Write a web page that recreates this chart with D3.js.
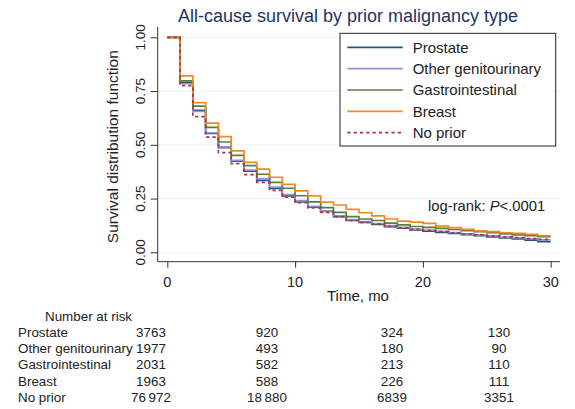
<!DOCTYPE html>
<html>
<head>
<meta charset="utf-8">
<script src="https://cdn.jsdelivr.net/npm/d3@7"></script>
<style>
  body { margin: 0; background: #fff; }
  text { font-family: "Liberation Sans", Arial, sans-serif; }
</style>
</head>
<body>
<svg width="575" height="409"></svg>
<script>
// survival estimate at the start of each month (0..29), held until the next month
const months = d3.range(0, 30);
const prostate = [1, 0.789, 0.660, 0.553, 0.487, 0.424, 0.377, 0.335, 0.297, 0.262, 0.234, 0.210, 0.190, 0.166, 0.148, 0.139, 0.130, 0.119, 0.112, 0.104, 0.098, 0.093, 0.088, 0.082, 0.077, 0.072, 0.067, 0.062, 0.057, 0.050];
const otherGU  = [1, 0.784, 0.655, 0.556, 0.490, 0.428, 0.382, 0.343, 0.303, 0.268, 0.240, 0.214, 0.193, 0.170, 0.152, 0.143, 0.134, 0.124, 0.116, 0.108, 0.103, 0.098, 0.092, 0.086, 0.081, 0.076, 0.071, 0.067, 0.063, 0.058];
const gastro   = [1, 0.797, 0.680, 0.581, 0.513, 0.451, 0.403, 0.363, 0.325, 0.298, 0.263, 0.235, 0.208, 0.186, 0.166, 0.155, 0.148, 0.136, 0.128, 0.120, 0.116, 0.111, 0.106, 0.101, 0.096, 0.091, 0.086, 0.081, 0.077, 0.073];
const breast   = [1, 0.821, 0.696, 0.601, 0.538, 0.472, 0.418, 0.387, 0.349, 0.316, 0.286, 0.262, 0.233, 0.220, 0.200, 0.184, 0.169, 0.155, 0.145, 0.140, 0.135, 0.122, 0.115, 0.107, 0.100, 0.096, 0.091, 0.088, 0.084, 0.077];
const noPrior  = [1, 0.775, 0.631, 0.536, 0.464, 0.412, 0.361, 0.325, 0.288, 0.257, 0.231, 0.206, 0.186, 0.166, 0.148, 0.139, 0.131, 0.121, 0.114, 0.107, 0.101, 0.096, 0.091, 0.086, 0.081, 0.076, 0.072, 0.068, 0.064, 0.060];

const seriesNames = ["Prostate", "Other genitourinary", "Gastrointestinal", "Breast", "No prior"];
const seriesValues = [prostate, otherGU, gastro, breast, noPrior];
const colors = ["#24557e", "#9a8fd8", "#5a7d3a", "#f08a24", "#a23a43"];

// number at risk table
const riskTimes = [0, 10, 20, 30];
const riskProstate = ["3763", "920", "324", "130"];
const riskOtherGU  = ["1977", "493", "180", "90"];
const riskGastro   = ["2031", "582", "213", "110"];
const riskBreast   = ["1963", "588", "226", "111"];
const riskNoPrior  = ["76\u2009972", "18\u2009880", "6839", "3351"];
const riskRows = [riskProstate, riskOtherGU, riskGastro, riskBreast, riskNoPrior];

const xTicks = [0, 10, 20, 30];
const yTicks = [0, 0.25, 0.5, 0.75, 1];

var svg = d3.select("svg");

let x = d3.scaleLinear().domain([0, 30]).range([167.3, 550.7]);
let y = d3.scaleLinear().domain([0, 1]).range([252.3, 37.3]);

const plotLeft = 157.7, plotRight = 560, plotTop = 27, plotBottom = 261.7;

// grid
svg.append("g").selectAll("line").data(yTicks).enter().append("line")
    .attr("x1", plotLeft).attr("x2", plotRight)
    .attr("y1", d => y(d)).attr("y2", d => y(d))
    .attr("stroke", "#e8f1f3").attr("stroke-width", 1);

// axes
let yAxis = d3.axisLeft(y).tickValues(yTicks).tickSize(7).tickSizeOuter(0);
let gy = svg.append("g").attr("transform", "translate(" + plotLeft + ",0)").call(yAxis);
gy.select(".domain").remove();
gy.selectAll("text").remove();
svg.append("line").attr("x1", plotLeft).attr("x2", plotLeft).attr("y1", plotTop).attr("y2", plotBottom).attr("stroke", "#333");

let xAxis = d3.axisBottom(x).tickValues(xTicks).tickSize(6).tickSizeOuter(0);
let gx = svg.append("g").attr("transform", "translate(0," + plotBottom + ")").call(xAxis);
gx.select(".domain").remove();
gx.selectAll("text").remove();
svg.append("line").attr("x1", plotLeft).attr("x2", plotRight).attr("y1", plotBottom).attr("y2", plotBottom).attr("stroke", "#333");
svg.selectAll(".tick line").attr("stroke", "#333");

// tick labels
svg.append("g").selectAll("text").data(yTicks).enter().append("text")
    .attr("transform", d => "translate(145," + y(d) + ") rotate(-90)")
    .attr("text-anchor", "middle")
    .style("font-size", "13.5px").attr("fill", "#222")
    .text(d => d3.format(".2f")(d));

svg.append("g").selectAll("text").data(xTicks).enter().append("text")
    .attr("x", d => x(d)).attr("y", 287)
    .attr("text-anchor", "middle")
    .style("font-size", "14.5px").attr("fill", "#222")
    .text(d => d);

// axis titles
svg.append("text")
    .attr("transform", "translate(118,146.7) rotate(-90)")
    .attr("text-anchor", "middle")
    .style("font-size", "15.5px").attr("fill", "#222")
    .text("Survival distribution function");

svg.append("text")
    .attr("x", 358).attr("y", 301)
    .attr("text-anchor", "middle")
    .style("font-size", "15px").attr("fill", "#222")
    .text("Time, mo");

// title
svg.append("text")
    .attr("x", 348).attr("y", 22)
    .attr("text-anchor", "middle")
    .style("font-size", "18px").attr("fill", "#1e3461")
    .text("All-cause survival by prior malignancy type");

// curves
let line = d3.line().curve(d3.curveStepAfter).x(d => x(d.t)).y(d => y(d.s));
seriesValues.forEach((vals, i) => {
    let pts = months.map((m, j) => ({t: m, s: vals[j]}));
    pts.push({t: 30, s: vals[vals.length - 1]});
    svg.append("path").datum(pts)
        .attr("d", line)
        .attr("fill", "none")
        .attr("stroke", colors[i])
        .attr("stroke-width", 1.7)
        .attr("stroke-dasharray", i == 4 ? "3.3,3" : null);
});

// legend
let lg = svg.append("g");
lg.append("rect").attr("x", 340).attr("y", 33.3).attr("width", 215.7).attr("height", 112.7)
    .attr("fill", "#fff").attr("stroke", "#222").attr("stroke-width", 1);
seriesNames.forEach((name, i) => {
    let ly = 47.3 + i * 21.35;
    lg.append("line").attr("x1", 347.3).attr("x2", 402.7).attr("y1", ly).attr("y2", ly)
        .attr("stroke", colors[i]).attr("stroke-width", 1.7)
        .attr("stroke-dasharray", i == 4 ? "3.3,3" : null);
    lg.append("text").attr("x", 412.7).attr("y", ly + 5.3)
        .style("font-size", "15px").attr("fill", "#222").text(name);
});

// log-rank annotation
let lr = svg.append("text").attr("x", 428).attr("y", 211)
    .style("font-size", "14.8px").attr("fill", "#222");
lr.append("tspan").text("log-rank: ");
lr.append("tspan").style("font-style", "italic").text("P");
lr.append("tspan").text("<.0001");

// number at risk
let rx = d3.scaleLinear().domain(riskTimes).range([151, 267, 392, 499]);
svg.append("text").attr("x", 45).attr("y", 320.8)
    .style("font-size", "13.4px").attr("fill", "#222").text("Number at risk");
riskRows.forEach((row, i) => {
    let ry = 336.5 + i * 16.4;
    svg.append("text").attr("x", 18).attr("y", ry)
        .style("font-size", "13.4px").attr("fill", "#222").text(seriesNames[i]);
    svg.append("g").selectAll("text").data(row).enter().append("text")
        .attr("x", (d, j) => rx(riskTimes[j])).attr("y", ry)
        .attr("text-anchor", "middle")
        .style("font-size", "13.4px").attr("fill", "#222")
        .text(d => d);
});
</script>
</body>
</html>
